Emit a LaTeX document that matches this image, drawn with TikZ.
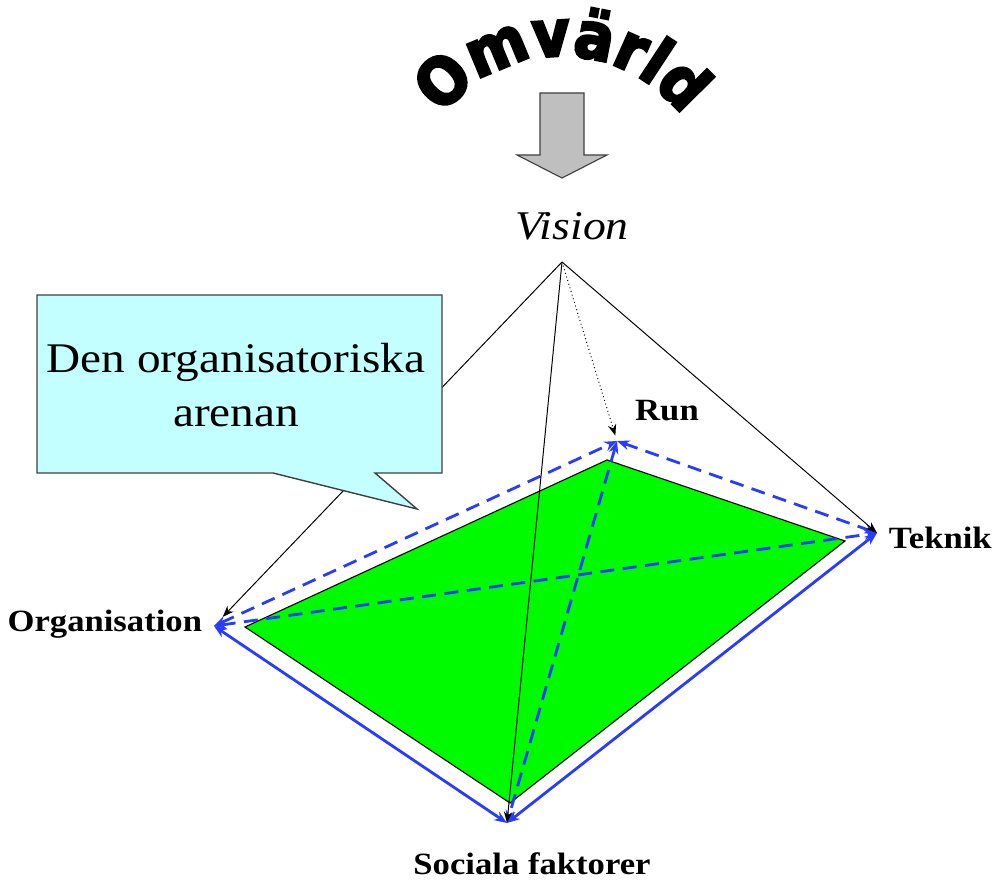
\documentclass[tikz,border=0pt]{standalone}
\usepackage{fontspec}
\setmainfont{Liberation Serif}[FakeStretch=1.12]
\newfontfamily\omvfont{DejaVu Sans}[FakeBold=4,FakeStretch=0.9]
\usetikzlibrary{arrows.meta,decorations.text}

\definecolor{arenablue}{RGB}{40,60,255}
\definecolor{arenagreen}{RGB}{0,250,0}
\definecolor{bubblecyan}{RGB}{196,255,255}

\begin{document}
\begin{tikzpicture}[
  x=0.025cm,y=0.025cm,
  >={Stealth[length=9pt,width=7pt]},
  corner/.style={font=\bfseries\fontsize{22}{26}\selectfont},
  frame/.style={<->,draw=arenablue,line width=2pt},
  framedash/.style={frame,dash pattern=on 10pt off 6pt},
  spoke/.style={->,line width=0.7pt,>={Stealth[length=8pt,width=6pt]}},
  arena/.style={fill=arenagreen,draw=black,line width=0.8pt},
  bubble/.style={fill=bubblecyan,draw=black!75,line width=1pt},
  inflow/.style={fill=black!25,draw=black!75,line width=0.8pt}
]
\useasboundingbox (0,0) rectangle (1002,-885);
\coordinate (apex) at (562,-262);
\coordinate (run) at (617,-441);
\coordinate (teknik) at (877,-533);
\coordinate (org) at (214,-626);
\coordinate (soc) at (507,-823);
\path[decorate,decoration={text along path,text align=center,
  text={|\omvfont\bfseries\fontsize{46}{46}\selectfont|Omvärld}}]
  (562,-206) ++(147:150) arc[start angle=147,end angle=33,radius=150];
\draw[inflow] (540,-93) -- (584,-93) -- (584,-155) -- (607,-155)
  -- (562,-178) -- (517,-155) -- (540,-155) -- cycle;
\node[font=\itshape\fontsize{29}{34}\selectfont] (vision) at (572,-226) {Vision};
\node[corner] (runlabel) at (667,-411) {Run};
\node[corner,anchor=west] (teknlabel) at (884,-538) {Teknik};
\node[corner,anchor=east] (orglabel) at (207,-624) {Organisation};
\node[corner] (soclabel) at (532,-864) {Sociala faktorer};
\filldraw[arena] (607,-460) -- (845,-541) -- (510,-803) -- (245,-627) -- cycle;
\draw[frame] (org) -- (soc);
\draw[frame] (soc) -- (teknik);
\draw[framedash] (org) -- (run);
\draw[framedash] (run) -- (teknik);
\draw[framedash] (org) -- (teknik);
\draw[framedash] (run) -- (soc);
\draw[spoke,shorten >=9pt] (apex) -- (org);
\draw[spoke] (apex) -- (teknik);
\draw[spoke,dotted,shorten >=4pt] (apex) -- (run);
\draw[spoke] (apex) -- (soc);
\draw[bubble] (37,-295) -| (442,-473) -- (375,-473) -- (417,-509)
  -- (273,-473) -| cycle;
\node[align=center,font=\fontsize{30}{38}\selectfont] (arena) at (236,-385)
  {Den organisatoriska\\arenan};
\end{tikzpicture}
\end{document}
